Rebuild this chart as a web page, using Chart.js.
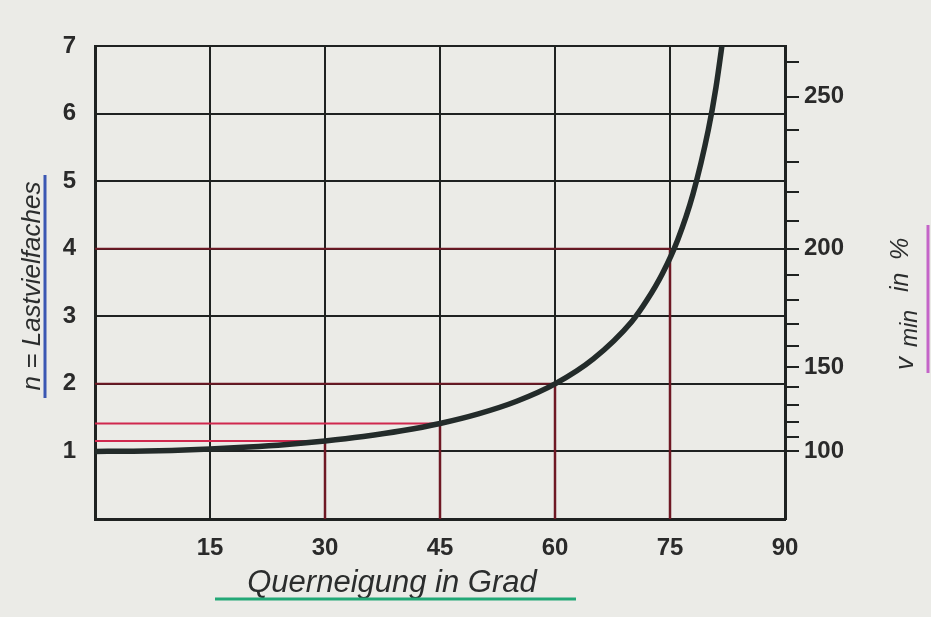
<!DOCTYPE html>
<html>
<head>
<meta charset="utf-8">
<script src="https://cdn.jsdelivr.net/npm/chart.js@4/dist/chart.umd.min.js"></script>
<style>
  html, body { margin: 0; padding: 0; background: #ebebe7; }
  #c { display: block; }
</style>
</head>
<body>
<canvas id="c" width="931" height="617"></canvas>
<script>
// Bank angle (degrees) and load factor n
const angles     = [0, 5, 10, 15, 20, 25, 30, 35, 40, 45, 50, 55, 60, 65, 70, 72, 74, 76, 78, 80, 81, 82];
const loadFactor = [1.00, 1.004, 1.015, 1.035, 1.064, 1.103, 1.155, 1.221, 1.305, 1.414, 1.556, 1.743, 2.00, 2.37, 2.92, 3.24, 3.63, 4.13, 4.81, 5.76, 6.39, 7.19];

// Marked example angles with their load factors
const markerAngles = [30, 45, 60, 75];
const markerLoads  = [1.155, 1.414, 2.0, 4.0];

// Axis ticks
const xTicks = [15, 30, 45, 60, 75, 90];
const yTicks = [1, 2, 3, 4, 5, 6, 7];
const vTicks = [100, 110, 120, 130, 140, 150, 160, 170, 180, 190, 200, 210, 220, 230, 240, 250, 260];
const vLabels = [100, 150, 200, 250];

const INK = '#1f2221';
const RED = '#d0284e';
const DARKRED = '#6e1824';
const FONT = '"Liberation Sans", Arial, sans-serif';

const curve = angles.map((a, i) => ({ x: a, y: loadFactor[i] }));

const datasets = [{
  data: curve, borderColor: '#232b2a', borderWidth: 5.5, pointRadius: 0,
  cubicInterpolationMode: 'monotone', fill: false, clip: 0
}];
markerAngles.forEach((a, i) => {
  const bright = i < 2;
  datasets.push({
    data: [{ x: 0, y: markerLoads[i] }, { x: a, y: markerLoads[i] }],
    borderColor: bright ? RED : DARKRED, borderWidth: 2, pointRadius: 0, clip: 0
  });
  datasets.push({
    data: [{ x: a, y: 0 }, { x: a, y: markerLoads[i] }],
    borderColor: DARKRED, borderWidth: 2.5, pointRadius: 0, clip: 0
  });
});

const titles = {
  id: 'titles',
  afterDraw(chart) {
    const ctx = chart.ctx;
    ctx.save();
    ctx.fillStyle = '#2b2d2d';
    // x title
    ctx.font = 'italic 31px ' + FONT;
    ctx.textAlign = 'center';
    ctx.textBaseline = 'alphabetic';
    ctx.fillText('Querneigung in Grad', 392, 592);
    ctx.strokeStyle = '#23a877'; ctx.lineWidth = 3;
    ctx.beginPath(); ctx.moveTo(215, 599); ctx.lineTo(576, 599); ctx.stroke();

    // left title
    ctx.save();
    ctx.translate(40, 286);
    ctx.rotate(-Math.PI / 2);
    ctx.font = 'italic 26px ' + FONT;
    ctx.textAlign = 'center';
    ctx.fillText('n = Lastvielfaches', 0, 0);
    ctx.restore();
    ctx.strokeStyle = '#3b57b3'; ctx.lineWidth = 3;
    ctx.beginPath(); ctx.moveTo(45, 175); ctx.lineTo(45, 398); ctx.stroke();

    // right title, pieces placed along the vertical (bottom y of each piece)
    ctx.save();
    ctx.rotate(-Math.PI / 2);
    ctx.textAlign = 'left';
    ctx.font = 'italic 26px ' + FONT;
    ctx.fillText('v', -370, 913);
    ctx.font = 'italic 23px ' + FONT;
    ctx.fillText('min', -347, 917);
    ctx.font = 'italic 25px ' + FONT;
    ctx.fillText('in', -292, 908);
    ctx.fillText('%', -260, 908);
    ctx.restore();
    ctx.strokeStyle = '#c464c8'; ctx.lineWidth = 3;
    ctx.beginPath(); ctx.moveTo(928, 225); ctx.lineTo(928, 373); ctx.stroke();
    ctx.restore();
  }
};

new Chart(document.getElementById('c'), {
  type: 'line',
  data: { datasets },
  plugins: [titles],
  options: {
    responsive: false,
    animation: false,
    events: [],
    layout: { padding: { top: 46, left: 0, right: 0, bottom: 0 } },
    plugins: { legend: { display: false }, tooltip: { enabled: false } },
    scales: {
      x: {
        type: 'linear', min: 0, max: 90,
        afterFit(s) { s.height = 98; },
        afterBuildTicks(s) { s.ticks = [0].concat(xTicks).map(v => ({ value: v })); },
        grid: { color: INK, lineWidth: 2, drawTicks: false },
        border: { color: INK, width: 3 },
        ticks: {
          autoSkip: false, maxRotation: 0, padding: 15, color: '#2a2a2a',
          font: { family: FONT, size: 24, weight: 'bold' },
          callback: v => (xTicks.includes(v) ? String(v) : '')
        }
      },
      y: {
        type: 'linear', position: 'left', min: 0, max: 7,
        afterFit(s) { s.width = 95; },
        afterBuildTicks(s) { s.ticks = [0].concat(yTicks).map(v => ({ value: v })); },
        grid: { color: INK, lineWidth: 2, drawTicks: false },
        border: { color: INK, width: 3 },
        ticks: {
          autoSkip: false, padding: 19, color: '#2a2a2a',
          font: { family: FONT, size: 24, weight: 'bold' },
          callback: v => (yTicks.includes(v) ? String(v) : '')
        }
      },
      y2: {
        type: 'linear', position: 'right', min: 0, max: 7,
        afterFit(s) { s.width = 146; },
        afterBuildTicks(s) { s.ticks = vTicks.map(v => ({ value: (v / 100) * (v / 100) })); },
        grid: { drawOnChartArea: false, color: INK, lineWidth: 2, tickLength: 14 },
        border: { color: INK, width: 3 },
        ticks: {
          autoSkip: false, padding: 5, color: '#2a2a2a',
          font: { family: FONT, size: 24, weight: 'bold' },
          callback: (v, i) => (vLabels.includes(vTicks[i]) ? String(vTicks[i]) : '')
        }
      }
    }
  }
});
</script>
</body>
</html>
